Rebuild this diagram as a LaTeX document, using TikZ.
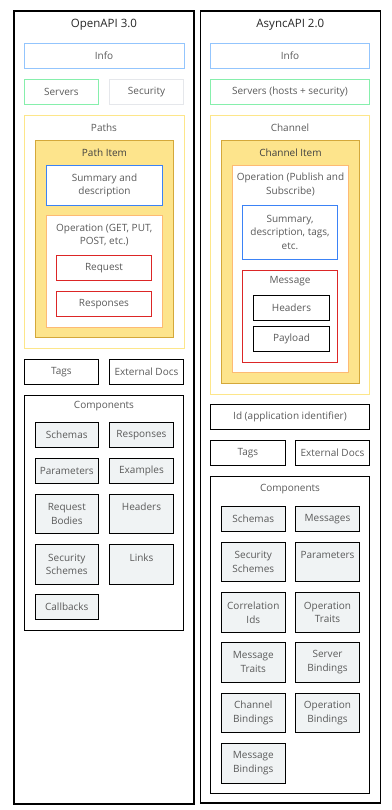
\documentclass[tikz,border=0pt]{standalone}
\usepackage{fontspec}
\setmainfont{Open Sans}
\usepackage{tikz}
\usetikzlibrary{positioning}

\definecolor{txtgray}{HTML}{5A5A5A}
\definecolor{infoblue}{HTML}{93C5FD}
\definecolor{sumblue}{HTML}{3B82F6}
\definecolor{srvgreen}{HTML}{86EFAC}
\definecolor{secgray}{HTML}{E5E7EB}
\definecolor{pathyellow}{HTML}{FDE68A}
\definecolor{itemfill}{HTML}{FDE48C}
\definecolor{itemgold}{HTML}{D4A83A}
\definecolor{oporange}{HTML}{FDBA74}
\definecolor{reqred}{HTML}{DC2626}
\definecolor{compfill}{HTML}{F0F3F4}

\begin{document}
\begin{tikzpicture}[x=1pt, y=-1pt,
    box/.style={rectangle, draw, line width=0.9pt, font=\fontsize{10}{13.5}\selectfont, text=txtgray, align=center, minimum height=25pt, inner sep=2pt},
    ttl/.style={font=\fontsize{10}{13.5}\selectfont, text=txtgray, align=center, inner sep=1pt},
    comp/.style={box, draw=black, fill=compfill}]
      \useasboundingbox (0,0) rectangle (391,810);

      % OpenAPI column
      \node[rectangle, draw, line width=1.1pt, minimum width=180pt, minimum height=793pt] (oa) at (104,407.5) {};
      \node[font=\fontsize{11.5}{13}\selectfont, text=black!85] (oatitle) at (104,25) {OpenAPI 3.0};

      \node[box, draw=infoblue, minimum width=160pt] (oainfo) at (104,55.7) {Info};
      \node[box, draw=srvgreen, minimum width=74.5pt] (oasrv) at (61.4,91.8) {Servers};
      \node[box, draw=secgray, minimum width=74.5pt] (oasec) at (146.5,91.8) {Security};

      % Paths
      \node[rectangle, draw=pathyellow, line width=0.9pt, minimum width=160pt, minimum height=233pt] (paths) at (104,231.8) {};
      \node[ttl] (pathslbl) at (104,127.3) {Paths};
      \node[rectangle, draw=itemgold, fill=itemfill, line width=0.9pt, minimum width=138.4pt, minimum height=196.7pt] (pitem) at (104.5,238.7) {};
      \node[ttl, text=black!75] (pitemlbl) at (104.5,152.3) {Path Item};
      \node[box, draw=sumblue, fill=white, minimum width=116.4pt, minimum height=40pt] (oasum) at (104.5,185.3) {Summary and\\description};
      \node[rectangle, draw=oporange, fill=white, line width=0.9pt, minimum width=116pt, minimum height=112pt] (oaop) at (104.3,271) {};
      \node[ttl] (oaoplbl) at (104.3,235) {Operation (GET, PUT,\\POST, etc.)};
      \node[box, draw=reqred, minimum width=95.4pt] (req) at (104,267.8) {Request};
      \node[box, draw=reqred, minimum width=95.4pt] (resp) at (104,303.8) {Responses};

      % Tags and docs
      \node[box, draw=black, minimum width=74.5pt] (oatags) at (61.4,371.8) {Tags};
      \node[box, draw=black, minimum width=74.5pt] (oadocs) at (146.5,371.8) {External Docs};

      % Components
      \node[rectangle, draw, line width=0.9pt, minimum width=159.4pt, minimum height=235pt] (oacomp) at (104,512.8) {};
      \node[ttl] (oacomplbl) at (104,405.7) {Components};
      \node[comp, minimum width=63pt] (oaschemas) at (66.8,434.8) {Schemas};
      \node[comp, minimum width=64.4pt] (oaresp) at (141.5,434.8) {Responses};
      \node[comp, minimum width=63pt] (oaparams) at (66.8,470.8) {Parameters};
      \node[comp, minimum width=64.4pt] (oaex) at (141.5,470.8) {Examples};
      \node[comp, minimum width=63pt, minimum height=39pt] (oabodies) at (66.8,513.8) {Request\\Bodies};
      \node[comp, minimum width=64.4pt, minimum height=39pt] (oahead) at (141.5,513.8) {Headers\\~};
      \node[comp, minimum width=63pt, minimum height=39.7pt] (oasecsch) at (66.8,564.2) {Security\\Schemes};
      \node[comp, minimum width=64.4pt, minimum height=39.7pt] (oalinks) at (141.5,564.2) {Links\\~};
      \node[comp, minimum width=63pt] (oacb) at (66.8,606.8) {Callbacks};

      % AsyncAPI column
      \node[rectangle, draw, line width=1.1pt, minimum width=180pt, minimum height=792pt] (aa) at (290.3,407) {};
      \node[font=\fontsize{11.5}{13}\selectfont, text=black!85] (aatitle) at (290.3,25) {AsyncAPI 2.0};

      \node[box, draw=infoblue, minimum width=159.4pt] (aainfo) at (290,55.7) {Info};
      \node[box, draw=srvgreen, minimum width=159.4pt] (aasrv) at (290,91.8) {Servers (hosts + security)};

      % Channel
      \node[rectangle, draw=pathyellow, line width=0.9pt, minimum width=159.4pt, minimum height=279pt] (chan) at (290,254.8) {};
      \node[ttl] (chanlbl) at (290,127.3) {Channel};
      \node[rectangle, draw=itemgold, fill=itemfill, line width=0.9pt, minimum width=138.4pt, minimum height=243pt] (citem) at (290.5,261.8) {};
      \node[ttl, text=black!75] (citemlbl) at (290.5,152.3) {Channel Item};
      \node[rectangle, draw=oporange, fill=white, line width=0.9pt, minimum width=116.4pt, minimum height=207.3pt] (aaop) at (290.5,268.7) {};
      \node[ttl] (aaoplbl) at (290.5,184.3) {Operation (Publish and\\Subscribe)};
      \node[box, draw=sumblue, minimum width=95.4pt, minimum height=54pt] (aasum) at (290,232.3) {Summary,\\description, tags,\\etc.};
      \node[rectangle, draw=reqred, line width=0.9pt, minimum width=95.4pt, minimum height=92.4pt] (msg) at (290,316.5) {};
      \node[ttl] (msglbl) at (290,281.3) {Message};
      \node[box, draw=black, minimum width=76.4pt] (hdrs) at (291.5,307.8) {Headers};
      \node[box, draw=black, minimum width=76.4pt] (payload) at (291.5,338.8) {Payload};

      % Id, tags and docs
      \node[box, draw=black, minimum width=159.4pt] (aaid) at (290,416.8) {Id (application identifier)};
      \node[box, draw=black, minimum width=75pt, minimum height=24.6pt] (aatags) at (247.8,453) {Tags};
      \node[box, draw=black, minimum width=74.4pt, minimum height=24.6pt] (aadocs) at (332.5,453) {External Docs};

      % Components
      \node[rectangle, draw, line width=0.9pt, minimum width=159.4pt, minimum height=317pt] (aacomp) at (290,634.8) {};
      \node[ttl] (aacomplbl) at (290,489) {Components};
      \node[comp, minimum width=64pt, minimum height=24.6pt] (aaschemas) at (253.3,519) {Schemas};
      \node[comp, minimum width=64.4pt, minimum height=24.6pt] (aamsgs) at (327.5,519) {Messages};
      \node[comp, minimum width=64pt, minimum height=39pt] (aasecsch) at (253.3,561.8) {Security\\Schemes};
      \node[comp, minimum width=64.4pt, minimum height=39pt] (aaparams) at (327.5,561.8) {Parameters\\~};
      \node[comp, minimum width=64pt, minimum height=39.6pt] (corrid) at (253.3,612.5) {Correlation\\Ids};
      \node[comp, minimum width=64.4pt, minimum height=39.6pt] (optraits) at (327.5,612.5) {Operation\\Traits};
      \node[comp, minimum width=64pt, minimum height=39.6pt] (msgtraits) at (253.3,662.2) {Message\\Traits};
      \node[comp, minimum width=64.4pt, minimum height=39.6pt] (srvbind) at (327.5,662.2) {Server\\Bindings};
      \node[comp, minimum width=64pt, minimum height=39pt] (chanbind) at (253.3,712.8) {Channel\\Bindings};
      \node[comp, minimum width=64.4pt, minimum height=39pt] (opbind) at (327.5,712.8) {Operation\\Bindings};
      \node[comp, minimum width=64pt, minimum height=40pt] (msgbind) at (253.3,763.3) {Message\\Bindings};
\end{tikzpicture}
\end{document}
